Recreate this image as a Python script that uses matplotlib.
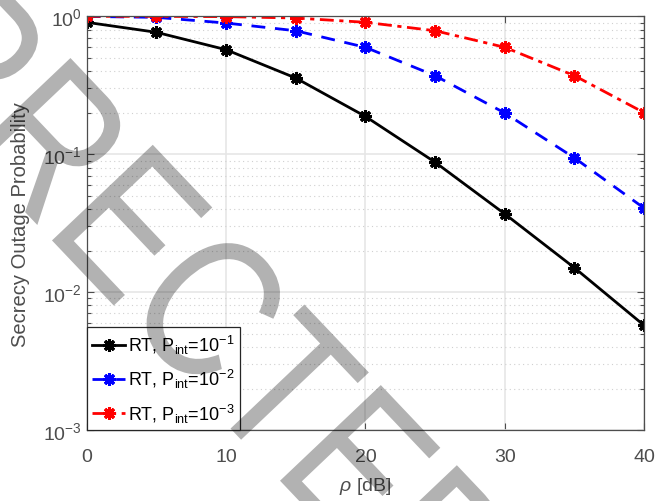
import matplotlib
matplotlib.use("Agg")
import matplotlib.pyplot as plt
from matplotlib.textpath import TextPath
from matplotlib.patches import PathPatch
from matplotlib.font_manager import FontProperties
from matplotlib.transforms import Affine2D, IdentityTransform

plt.rcParams['font.family'] = ['Liberation Sans', 'DejaVu Sans']
plt.rcParams['mathtext.fontset'] = 'custom'
plt.rcParams['mathtext.rm'] = 'Liberation Sans'
plt.rcParams['mathtext.it'] = 'Liberation Sans:italic'

# valores
rho = [0, 5, 10, 15, 20, 25, 30, 35, 40]
sop_1 = [0.905, 0.766, 0.573, 0.357, 0.188, 0.0875, 0.0369, 0.0150, 0.00573]
sop_2 = [0.998, 0.983, 0.894, 0.786, 0.596, 0.371, 0.199, 0.094, 0.0406]
sop_3 = [1.0, 0.999, 0.995, 0.972, 0.905, 0.786, 0.596, 0.371, 0.200]
etiquetas = [r'RT, P$_{\rm int}$=10$^{-1}$',
             r'RT, P$_{\rm int}$=10$^{-2}$',
             r'RT, P$_{\rm int}$=10$^{-3}$']
yticks = [1e-3, 1e-2, 1e-1, 1e0]
yticklabels = [r'10$^{-3}$', r'10$^{-2}$', r'10$^{-1}$', r'10$^{0}$']
marca = 'CORRECTED'

gris = '#4d4d4d'

fig = plt.figure(figsize=(6.56, 5.02), dpi=100)
ax = fig.add_axes([0.132, 0.1414, 0.850, 0.8241])

mk = dict(marker=(8, 2, 0), markersize=9, markeredgewidth=2.2, linewidth=2.0)
ax.plot(rho, sop_1, color='k', linestyle='-', label=etiquetas[0], **mk)
ax.plot(rho, sop_2, color='#0000ff', linestyle='--', dashes=(5, 3.5), label=etiquetas[1], **mk)
ax.plot(rho, sop_3, color='#ff0000', linestyle='-.', dashes=(5, 2, 1.5, 2), label=etiquetas[2], **mk)

ax.set_yscale('log')
ax.set_xlim(0, 40)
ax.set_ylim(1e-3, 1)
ax.set_xticks([0, 10, 20, 30, 40])
ax.set_yticks(yticks)
ax.set_yticklabels(yticklabels)

ax.grid(True, which='major', color='#e6e6e6', linewidth=1.2)
ax.grid(True, which='minor', axis='y', color='#d0d0d0', linestyle=(0, (1, 3)), linewidth=0.8)
ax.set_axisbelow(True)

ax.tick_params(which='both', direction='in', top=True, right=True, colors=gris,
               labelsize=14, labelcolor=gris)
ax.tick_params(which='major', length=5, width=0.8)
ax.tick_params(which='minor', length=3, width=0.8)
ax.tick_params(axis='x', which='major', pad=13)
for s in ax.spines.values():
    s.set_color(gris)
    s.set_linewidth(0.9)

ax.set_xlabel(r'$\rho$ [dB]', fontsize=14, color=gris, labelpad=7)
ax.set_ylabel('Secrecy Outage Probability', fontsize=14.5, color=gris, labelpad=9)

leg = ax.legend(loc='lower left', fontsize=13, handlelength=1.85, handletextpad=0.15,
                labelspacing=0.62, borderaxespad=0.0, borderpad=0.3,
                fancybox=False, framealpha=1)
leg.get_frame().set_edgecolor('#262626')
leg.get_frame().set_linewidth(0.9)

# marca de agua (letras estrechas y giradas)
fp = FontProperties(family='Liberation Sans')
tam = 202
tp = TextPath((0, 0), marca, size=tam, prop=fp)
ext_c = TextPath((0, 0), 'C', size=tam, prop=fp).get_extents()
cx = TextPath((0, 0), marca[:6], size=tam, prop=fp).get_extents().x1 - ext_c.width / 2
cy = (ext_c.y0 + ext_c.y1) / 2
tr = Affine2D().translate(-cx, -cy).scale(0.82, 1).rotate_deg(-46.5).translate(211, 502 - 308)
fig.add_artist(PathPatch(tr.transform_path(tp), transform=IdentityTransform(),
                         facecolor='k', edgecolor='none', alpha=0.3, zorder=10))

fig.savefig('out.png', dpi=100)
